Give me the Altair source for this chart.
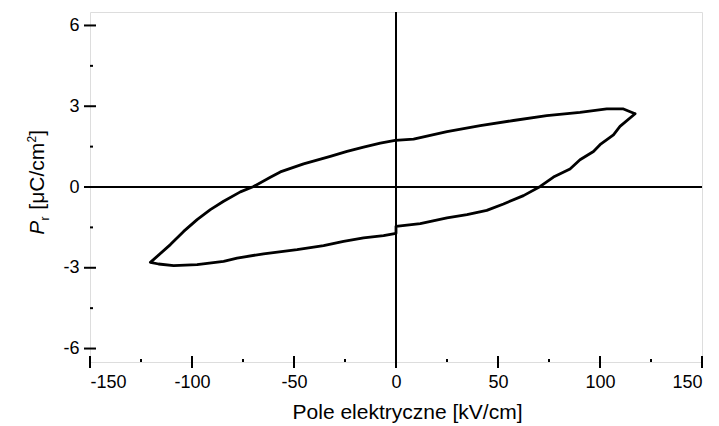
import altair as alt
import pandas as pd

# Hysteresis loop: upper branch (from + tip to - tip), lower branch (from - tip to + tip)
upper_x = [117.2, 111.5, 103.3, 90.2, 73.9, 57.6, 41.3, 25.0, 8.6, -0.4, -7.7, -15.9, -24.0,
           -32.2, -45.3, -56.7, -61.6, -69.8, -76.3, -84.5, -91.0, -97.5, -104.1, -110.6, -120.4]
upper_y = [2.72, 2.90, 2.90, 2.77, 2.65, 2.47, 2.28, 2.06, 1.78, 1.73, 1.63, 1.48, 1.32,
           1.14, 0.86, 0.56, 0.36, 0.02, -0.18, -0.53, -0.84, -1.21, -1.65, -2.14, -2.80]
lower_x = [-120.4, -116.4, -109.0, -97.5, -84.5, -77.9, -64.9, -48.5, -35.5, -25.7, -15.9, -6.1,
           0.0, 0.0, 11.9, 25.0, 34.8, 44.5, 52.7, 62.5, 70.7, 77.2, 85.3, 90.2, 96.8, 100.0,
           106.6, 109.8, 117.2]
lower_y = [-2.80, -2.86, -2.92, -2.88, -2.76, -2.64, -2.48, -2.33, -2.18, -2.02, -1.89, -1.81,
           -1.72, -1.46, -1.36, -1.15, -1.03, -0.87, -0.63, -0.32, 0.02, 0.37, 0.67, 1.01, 1.32,
           1.57, 1.94, 2.25, 2.72]

x_major = [-150, -100, -50, 0, 50, 100, 150]
x_minor = [-125, -75, -25, 25, 75, 125]
y_major = [-6, -3, 0, 3, 6]
y_minor = [-4.5, -1.5, 1.5, 4.5]

W, H = 612, 350
FONT = "Liberation Sans"

xs = upper_x + lower_x
ys = upper_y + lower_y
loop = pd.DataFrame({"E": xs, "P": ys, "i": list(range(len(xs)))})

xscale = alt.Scale(domain=[-150, 150], nice=False, zero=False)
yscale = alt.Scale(domain=[-6.5, 6.5], nice=False, zero=False)

xaxis = alt.Axis(values=x_major, ticks=False, domain=False, grid=False,
                 labelExpr="toString(datum.value)",
                 labelFont=FONT, labelFontSize=18, labelColor="black", labelPadding=11,
                 title="Pole elektryczne [kV/cm]", titleFont=FONT, titleFontSize=21,
                 titleFontWeight="normal", titleColor="black",
                 titleX=317, titleY=56, titleAlign="center", titleBaseline="alphabetic")
yaxis = alt.Axis(values=y_major, ticks=False, domain=False, grid=False,
                 labelExpr="toString(datum.value)",
                 labelFont=FONT, labelFontSize=18, labelColor="black", labelPadding=11,
                 title=None)

line = alt.Chart(loop).mark_line(color="black", strokeWidth=2.8, strokeJoin="round",
                                 strokeCap="round").encode(
    x=alt.X("E:Q", scale=xscale, axis=xaxis),
    y=alt.Y("P:Q", scale=yscale, axis=yaxis),
    order=alt.Order("i:Q"),
)

zero_v = alt.Chart(pd.DataFrame({"E": [0]})).mark_rule(color="black", strokeWidth=2).encode(
    x=alt.X("E:Q", scale=xscale), y=alt.value(0), y2=alt.value(H))
zero_h = alt.Chart(pd.DataFrame({"P": [0]})).mark_rule(color="black", strokeWidth=2).encode(
    y=alt.Y("P:Q", scale=yscale), x=alt.value(0), x2=alt.value(W))

xt_major = alt.Chart(pd.DataFrame({"E": x_major})).mark_rule(color="black", strokeWidth=2).encode(
    x=alt.X("E:Q", scale=xscale), y=alt.value(H - 6), y2=alt.value(H + 6))
xt_minor = alt.Chart(pd.DataFrame({"E": x_minor})).mark_rule(color="black", strokeWidth=2).encode(
    x=alt.X("E:Q", scale=xscale), y=alt.value(H - 3), y2=alt.value(H))
yt_major = alt.Chart(pd.DataFrame({"P": y_major})).mark_rule(color="black", strokeWidth=2).encode(
    y=alt.Y("P:Q", scale=yscale), x=alt.value(-6), x2=alt.value(6))
yt_minor = alt.Chart(pd.DataFrame({"P": y_minor})).mark_rule(color="black", strokeWidth=2).encode(
    y=alt.Y("P:Q", scale=yscale), x=alt.value(0), x2=alt.value(3))

# y-axis title composed of pieces: P (italic), subscript r, [μC/cm, superscript 2, ]
base_x = -46.5
title_pieces = [
    ("P", 21, "italic", 222.7, 0),
    ("r", 12, "normal", 208.5, 5),
    ("[μC/cm", 21, "normal", 197.7, 0),
    ("2", 12, "normal", 130.5, -8),
    ("]", 21, "normal", 123.7, 0),
]
ytitle_layers = []
for txt, size, style, ypos, dx in title_pieces:
    ytitle_layers.append(
        alt.Chart(pd.DataFrame({"t": [txt]})).mark_text(
            font=FONT, fontSize=size, fontStyle=style, angle=270, align="left",
            baseline="alphabetic", color="black"
        ).encode(text="t:N", x=alt.value(base_x + dx), y=alt.value(ypos))
    )

chart = alt.layer(
    zero_v, zero_h, xt_major, xt_minor, yt_major, yt_minor, line, *ytitle_layers
).properties(
    width=W, height=H,
    autosize=alt.AutoSizeParams(type="none"),
    padding={"left": 90, "top": 12, "right": 17, "bottom": 64},
).configure_view(
    stroke="black", strokeWidth=2
).configure(background="white")

chart.save("out.html", embed_options={"renderer": "svg", "actions": False})
